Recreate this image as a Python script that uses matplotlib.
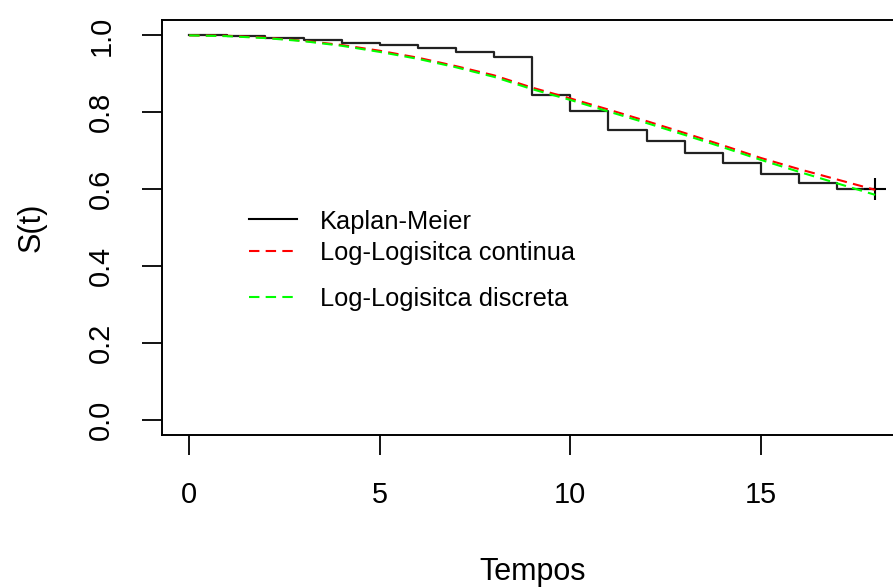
import matplotlib
matplotlib.use("Agg")
import matplotlib.pyplot as plt

plt.rcParams['font.family'] = ['Liberation Sans', 'DejaVu Sans']

# Kaplan-Meier (valor logo apos cada tempo)
tempos = list(range(0, 19))
km_surv = [1.000, 0.998, 0.994, 0.988, 0.981, 0.975, 0.966, 0.957, 0.945,
           0.846, 0.803, 0.753, 0.724, 0.695, 0.668, 0.639, 0.617, 0.600,
           0.600]
censura_t = [18]
censura_s = [0.600]

ll_continua = [1.000, 0.999, 0.994, 0.986, 0.975, 0.960, 0.942, 0.920, 0.896,
               0.864, 0.836, 0.807, 0.777, 0.746, 0.714, 0.681, 0.652, 0.625,
               0.598]
ll_discreta = [1.000, 0.998, 0.993, 0.985, 0.973, 0.957, 0.939, 0.917, 0.892,
               0.860, 0.832, 0.802, 0.772, 0.741, 0.709, 0.676, 0.645, 0.615,
               0.585]

legenda = ["Kaplan-Meier", "Log-Logisitca continua", "Log-Logisitca discreta"]

fig = plt.figure(figsize=(8.93, 5.87), dpi=100)
ax = fig.add_axes([0.1811, 0.2589, 0.8297, 0.7070])

ax.step(tempos, km_surv, where='post', color='#222222', lw=1.6)
ax.plot(censura_t, censura_s, '+', color='black', ms=16, mew=1.5)
ax.plot(tempos, ll_continua, color='red', lw=1.5, dashes=(5, 3))
ax.plot(tempos, ll_discreta, color='#00ff00', lw=1.5, dashes=(5, 3))

ax.set_xlim(-0.72, 18.72)
ax.set_ylim(-0.04, 1.04)
ax.set_xticks([0, 5, 10, 15])
ax.set_yticks([0.0, 0.2, 0.4, 0.6, 0.8, 1.0])
ax.set_yticklabels(['%.1f' % v for v in ax.get_yticks()])
ax.tick_params(axis='both', length=14.4, width=1.3, labelsize=20.8, pad=19)
ax.tick_params(axis='y', labelrotation=90, pad=19)
for lab in ax.get_yticklabels():
    lab.set_va('center')

for sp in ax.spines.values():
    sp.set_linewidth(1.4)

ax.set_xlabel('Tempos', fontsize=22)
ax.xaxis.set_label_coords(0.5, -0.294)
ax.set_ylabel('S(t)', fontsize=22, va='center')
ax.yaxis.set_label_coords(-0.176, 0.5)

# legenda sem moldura
estilos = [dict(color='black'), dict(color='red', dashes=(5, 3)),
           dict(color='#00ff00', dashes=(5, 3))]
linhas_y = [0.5205, 0.4446, 0.3337]
for rot, y, st in zip(legenda, linhas_y, estilos):
    ax.plot([0.1178, 0.1826], [y, y], transform=ax.transAxes, lw=1.5, **st)
    ax.text(0.2135, y, rot, transform=ax.transAxes, fontsize=18.3,
            va='center_baseline', ha='left')

fig.savefig('out.png', dpi=100)
